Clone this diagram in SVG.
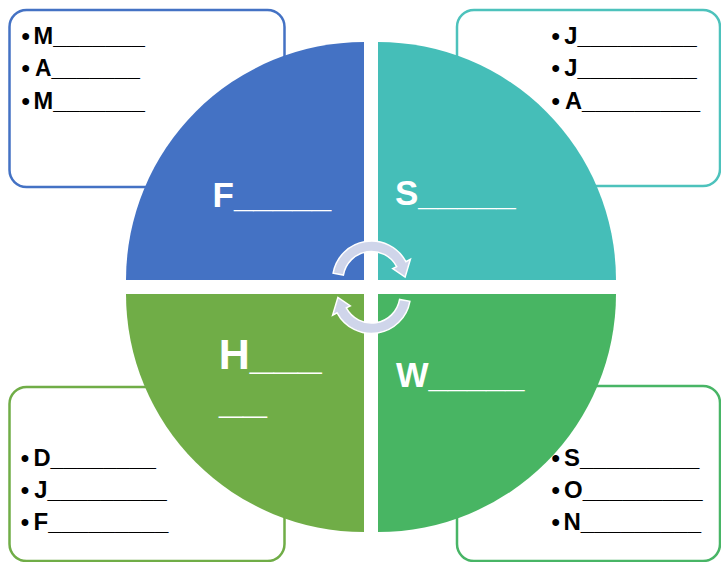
<svg xmlns="http://www.w3.org/2000/svg" width="721" height="562" viewBox="0 0 721 562">
<style>
.box{fill:none;stroke-width:2.5}
.bt{font-family:"Liberation Sans",Arial,sans-serif;font-weight:bold;font-size:24px;fill:#000}
.qt{font-family:"Liberation Sans",Arial,sans-serif;font-weight:bold;fill:#fff}
.arr{fill:#CFD5EA;stroke:#fff;stroke-width:1.5;stroke-linejoin:miter}
</style>
<defs>
<path id="carrow" d="M333.1,273.2 A39,39 0 0 1 405.9,261.7 L410.4,259.3 L405.1,277.1 L392.7,268.7 L396.7,266.6 A28.5,28.5 0 0 0 343.4,275.1 Z"/>
</defs>
<rect width="721" height="562" fill="#fff"/>
<g id="box-spring">
<rect class="box" x="9.5" y="10" width="275" height="177" rx="17" stroke="#4472C4"/>
<text class="bt" x="21.5" y="43.5">•</text><text class="bt" x="33.5" y="43.5" textLength="111.5" lengthAdjust="spacingAndGlyphs">M_______</text>
<text class="bt" x="21.5" y="76">•</text><text class="bt" x="35" y="76" textLength="105" lengthAdjust="spacingAndGlyphs">A_______</text>
<text class="bt" x="21.5" y="108.5">•</text><text class="bt" x="33.5" y="108.5" textLength="111.5" lengthAdjust="spacingAndGlyphs">M_______</text>
</g>
<g id="box-summer">
<rect class="box" x="457" y="10" width="263" height="176" rx="17" stroke="#4DC2BC"/>
<text class="bt" x="551.6" y="43.5">•</text><text class="bt" x="564.3" y="43.5" textLength="132.4" lengthAdjust="spacingAndGlyphs">J_________</text>
<text class="bt" x="551.6" y="76">•</text><text class="bt" x="564.3" y="76" textLength="132.4" lengthAdjust="spacingAndGlyphs">J_________</text>
<text class="bt" x="551.6" y="108.5">•</text><text class="bt" x="565" y="108.5" textLength="135" lengthAdjust="spacingAndGlyphs">A_________</text>
</g>
<g id="box-winter">
<rect class="box" x="9.5" y="387" width="275" height="174" rx="17" stroke="#70AD47"/>
<text class="bt" x="20.8" y="466">•</text><text class="bt" x="33.5" y="466" textLength="122.5" lengthAdjust="spacingAndGlyphs">D________</text>
<text class="bt" x="20.8" y="498.3">•</text><text class="bt" x="34.3" y="498.3" textLength="132.4" lengthAdjust="spacingAndGlyphs">J_________</text>
<text class="bt" x="20.8" y="530">•</text><text class="bt" x="33.5" y="530" textLength="134.8" lengthAdjust="spacingAndGlyphs">F_________</text>
</g>
<g id="box-autumn">
<rect class="box" x="457" y="386" width="263" height="175" rx="17" stroke="#48B566"/>
<text class="bt" x="551.5" y="465.5">•</text><text class="bt" x="564" y="465.5" textLength="135.3" lengthAdjust="spacingAndGlyphs">S_________</text>
<text class="bt" x="551.5" y="497.8">•</text><text class="bt" x="564" y="497.8" textLength="138.7" lengthAdjust="spacingAndGlyphs">O_________</text>
<text class="bt" x="551.5" y="530">•</text><text class="bt" x="563.5" y="530" textLength="137.5" lengthAdjust="spacingAndGlyphs">N_________</text>
</g>
<g id="q-spring">
<path d="M364,280 L126,280 A238,238 0 0 1 364,42 Z" fill="#4472C4"/>
<text class="qt" x="212.5" y="206.5" font-size="35">F_____</text>
</g>
<g id="q-summer">
<path d="M378,280 L378,42 A238,238 0 0 1 616,280 Z" fill="#45BEB8"/>
<text class="qt" x="395" y="205" font-size="35">S_____</text>
</g>
<g id="q-winter">
<path d="M364,294 L364,532 A238,238 0 0 1 126,294 Z" fill="#70AD47"/>
<text class="qt" font-size="43"><tspan x="218.8" y="369">H___</tspan><tspan x="219" y="413.3">__</tspan></text>
</g>
<g id="q-autumn">
<path d="M378,294 L616,294 A238,238 0 0 1 378,532 Z" fill="#48B563"/>
<text class="qt" x="396" y="387.3" font-size="34.5">W_____</text>
</g>
<g id="connectors">
<use href="#carrow" class="arr"/>
<use href="#carrow" class="arr" transform="rotate(180 371.5 287.25)"/>
</g>
</svg>
